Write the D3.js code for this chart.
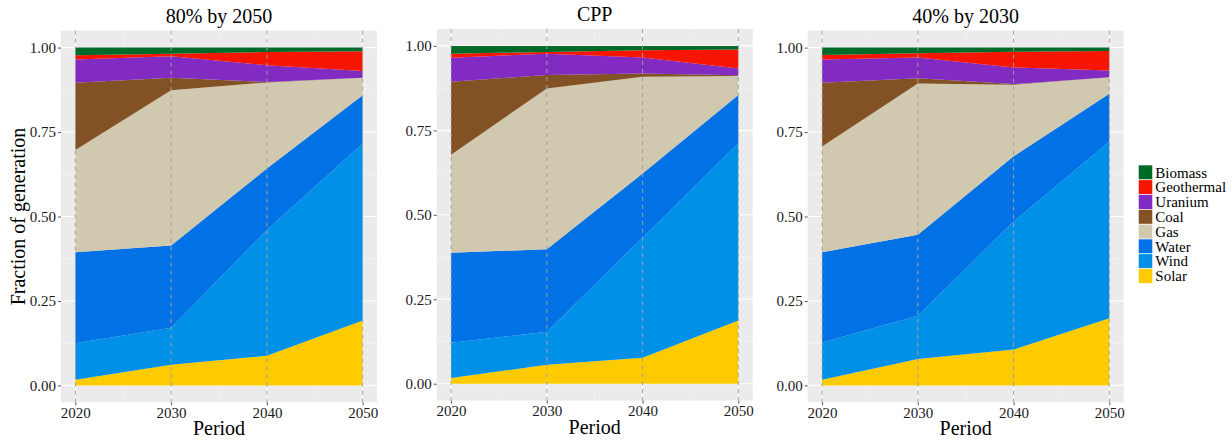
<!DOCTYPE html>
<html>
<head>
<meta charset="utf-8">
<script src="https://cdn.jsdelivr.net/npm/d3@7"></script>
<style>
    body { margin: 0; background: #ffffff; }
    svg, svg text { font-family: "Liberation Serif", "Times New Roman", serif; }
</style>
</head>
<body>
<div id="chart"></div>
<script>
(function() {
    var width = 1232,
        height = 441;

    // data (share of generation, stacked bottom to top)
    var periods = [2020, 2030, 2040, 2050];
    var sources = ["Solar", "Wind", "Water", "Gas", "Coal", "Uranium", "Geothermal", "Biomass"];
    var scenarios = ["80% by 2050", "CPP", "40% by 2030"];
    var yTicks = [0, 0.25, 0.5, 0.75, 1];

    // one row per source, one column per period
    var share80by2050 = [
        [0.017, 0.061, 0.088, 0.192],
        [0.108, 0.110, 0.372, 0.524],
        [0.269, 0.243, 0.182, 0.143],
        [0.303, 0.460, 0.255, 0.052],
        [0.199, 0.037, 0.001, 0.000],
        [0.069, 0.063, 0.050, 0.020],
        [0.012, 0.008, 0.039, 0.058],
        [0.023, 0.018, 0.013, 0.011]
    ];
    var shareCPP = [
        [0.017, 0.056, 0.077, 0.187],
        [0.104, 0.098, 0.355, 0.525],
        [0.267, 0.244, 0.190, 0.143],
        [0.290, 0.476, 0.287, 0.056],
        [0.216, 0.040, 0.009, 0.002],
        [0.071, 0.063, 0.048, 0.020],
        [0.012, 0.005, 0.021, 0.056],
        [0.023, 0.018, 0.013, 0.011]
    ];
    var share40by2030 = [
        [0.017, 0.078, 0.106, 0.199],
        [0.110, 0.128, 0.379, 0.523],
        [0.267, 0.240, 0.193, 0.141],
        [0.313, 0.448, 0.212, 0.049],
        [0.189, 0.015, 0.002, 0.000],
        [0.069, 0.062, 0.049, 0.020],
        [0.013, 0.012, 0.047, 0.058],
        [0.022, 0.017, 0.012, 0.010]
    ];
    var shares = [share80by2050, shareCPP, share40by2030];

    var colors = {
        Solar: "#fecb00",
        Wind: "#0090e8",
        Water: "#0072e6",
        Gas: "#d0c8af",
        Coal: "#835224",
        Uranium: "#822bc3",
        Geothermal: "#f51500",
        Biomass: "#006b29"
    };

    var serif = "Liberation Serif, Times New Roman, serif";

    var svg = d3.select("#chart")
        .append("svg")
        .attr("width", width)
        .attr("height", height)
        .attr("font-family", serif);

    var panelPos = [[61, 30.7], [436.7, 29], [807.7, 30.7]];
    var pw = 316,
        ph = 371.6;

    // ggplot style 5% expansion on both axes
    var x = d3.scaleLinear().domain([2018.5, 2051.5]).range([0, pw]);
    var y = d3.scaleLinear().domain([-0.05, 1.05]).range([ph, 0]);

    var stack = d3.stack().keys(sources);

    var area = d3.area()
        .x(function(d) { return x(d.data.period); })
        .y0(function(d) { return y(d[0]); })
        .y1(function(d) { return y(d[1]); });

    scenarios.forEach(function(name, i) {
        var rows = periods.map(function(p, j) {
            var row = { period: p };
            sources.forEach(function(s, k) {
                row[s] = shares[i][k][j];
            });
            return row;
        });

        var g = svg.append("g")
            .attr("transform", "translate(" + panelPos[i][0] + "," + panelPos[i][1] + ")");

        g.append("rect")
            .attr("width", pw)
            .attr("height", ph)
            .attr("fill", "#ebebeb");

        // minor grid
        g.selectAll(".ygrid-minor")
            .data([0.125, 0.375, 0.625, 0.875])
            .enter().append("line")
            .attr("x1", 0).attr("x2", pw)
            .attr("y1", function(d) { return y(d); })
            .attr("y2", function(d) { return y(d); })
            .attr("stroke", "#f6f6f6")
            .attr("stroke-width", 0.6);

        g.selectAll(".xgrid-minor")
            .data([2025, 2035, 2045])
            .enter().append("line")
            .attr("y1", 0).attr("y2", ph)
            .attr("x1", function(d) { return x(d); })
            .attr("x2", function(d) { return x(d); })
            .attr("stroke", "#f6f6f6")
            .attr("stroke-width", 0.6);

        // major grid
        g.selectAll(".ygrid")
            .data(yTicks)
            .enter().append("line")
            .attr("x1", 0).attr("x2", pw)
            .attr("y1", function(d) { return y(d); })
            .attr("y2", function(d) { return y(d); })
            .attr("stroke", "#ffffff")
            .attr("stroke-width", 1.1);

        g.selectAll(".xgrid")
            .data(periods)
            .enter().append("line")
            .attr("y1", 0).attr("y2", ph)
            .attr("x1", function(d) { return x(d); })
            .attr("x2", function(d) { return x(d); })
            .attr("stroke", "#ffffff")
            .attr("stroke-width", 1.1);

        g.selectAll(".layer")
            .data(stack(rows))
            .enter().append("path")
            .attr("class", "layer")
            .attr("d", area)
            .attr("fill", function(d) { return colors[d.key]; });

        // dashed period markers on top
        g.selectAll(".vline")
            .data(periods)
            .enter().append("line")
            .attr("y1", 0).attr("y2", ph)
            .attr("x1", function(d) { return x(d); })
            .attr("x2", function(d) { return x(d); })
            .attr("stroke", "#a0a0a0")
            .attr("stroke-width", 1)
            .attr("stroke-dasharray", "4,4");

        var yAxis = g.append("g")
            .call(d3.axisLeft(y).tickValues(yTicks).tickFormat(d3.format(".2f")).tickSize(3).tickPadding(2));

        var xAxis = g.append("g")
            .attr("transform", "translate(0," + ph + ")")
            .call(d3.axisBottom(x).tickValues(periods).tickFormat(d3.format("d")).tickSize(3).tickPadding(2));

        [yAxis, xAxis].forEach(function(a) {
            a.attr("font-family", serif).attr("font-size", 15);
            a.select(".domain").remove();
            a.selectAll(".tick line").attr("stroke", "#555");
            a.selectAll(".tick text")
                .attr("fill", "#1a1a1a")
                .attr("font-family", serif)
                .attr("font-size", 15);
        });

        g.append("text")
            .attr("x", pw / 2)
            .attr("y", -8)
            .attr("text-anchor", "middle")
            .attr("fill", "#000")
            .attr("font-size", 20)
            .text(name);

        g.append("text")
            .attr("x", pw / 2)
            .attr("y", ph + 33)
            .attr("text-anchor", "middle")
            .attr("fill", "#000")
            .attr("font-size", 20)
            .text("Period");

        if (i === 0) {
            g.append("text")
                .attr("transform", "translate(" + (18 - panelPos[0][0]) + "," + (ph / 2) + ") rotate(-90)")
                .attr("dy", "0.35em")
                .attr("text-anchor", "middle")
                .attr("fill", "#000")
                .attr("font-size", 20)
                .text("Fraction of generation");
        }
    });

    // legend, top entry is the top layer
    var legend = svg.append("g")
        .attr("transform", "translate(1138.3,165)");

    var legendItems = sources.slice().reverse();
    var keyH = 14.8;

    var item = legend.selectAll(".item")
        .data(legendItems)
        .enter().append("g")
        .attr("transform", function(d, i) { return "translate(0," + (i * keyH) + ")"; });

    item.append("rect")
        .attr("width", 14.4)
        .attr("height", keyH)
        .attr("fill", function(d) { return colors[d]; })
        .attr("stroke", "#ffffff")
        .attr("stroke-width", 0.6);

    item.append("text")
        .attr("x", 17)
        .attr("y", keyH / 2)
        .attr("dy", "0.35em")
        .attr("fill", "#000")
        .attr("font-size", 15)
        .text(function(d) { return d; });
})();
</script>
</body>
</html>
